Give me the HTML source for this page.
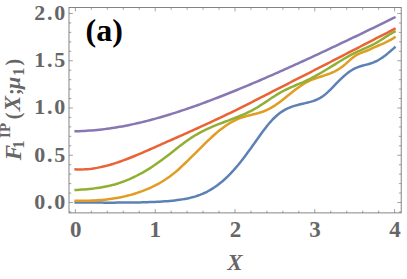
<!DOCTYPE html>
<html><head><meta charset="utf-8">
<title>F1 IP plot (a)</title>
<style>
html,body{margin:0;padding:0;background:#fff;font-family:"Liberation Serif",serif;}
body{width:407px;height:279px;overflow:hidden;}
svg{display:block}
.c path{fill:none;stroke-width:2.5;stroke-linecap:butt;stroke-linejoin:round}
</style></head><body>
<svg width="407" height="279" viewBox="0 0 407 279">
<desc>(a) F1 IP (X; mu1) versus X; y ticks 0.0 0.5 1.0 1.5 2.0; x ticks 0 1 2 3 4</desc>
<rect width="407" height="279" fill="#fff"/>
<g class="c">
<path d="M74.4,202.56 L76.9,202.56 L79.4,202.56 L81.9,202.57 L84.4,202.57 L86.9,202.58 L89.5,202.59 L92.0,202.59 L94.5,202.60 L97.0,202.61 L99.5,202.62 L102.0,202.62 L104.5,202.63 L107.0,202.63 L109.5,202.63 L112.0,202.63 L114.6,202.63 L117.1,202.62 L119.6,202.61 L122.1,202.60 L124.6,202.58 L127.1,202.56 L129.6,202.53 L132.1,202.50 L134.6,202.47 L137.1,202.43 L139.6,202.38 L142.2,202.32 L144.7,202.26 L147.2,202.20 L149.7,202.12 L152.2,202.03 L154.7,201.93 L157.2,201.81 L159.7,201.68 L162.2,201.52 L164.7,201.35 L167.2,201.15 L169.8,200.93 L172.3,200.68 L174.8,200.40 L177.3,200.09 L179.8,199.75 L182.3,199.37 L184.8,198.94 L187.3,198.46 L189.8,197.91 L192.3,197.29 L194.9,196.59 L197.4,195.79 L199.9,194.89 L202.4,193.88 L204.9,192.76 L207.4,191.51 L209.9,190.12 L212.4,188.61 L214.9,186.97 L217.4,185.19 L219.9,183.27 L222.5,181.20 L225.0,178.99 L227.5,176.64 L230.0,174.13 L232.5,171.47 L235.0,168.67 L237.5,165.74 L240.0,162.68 L242.5,159.51 L245.0,156.23 L247.5,152.84 L250.1,149.37 L252.6,145.84 L255.1,142.28 L257.6,138.73 L260.1,135.22 L262.6,131.79 L265.1,128.47 L267.6,125.29 L270.1,122.30 L272.6,119.52 L275.2,116.99 L277.7,114.74 L280.2,112.79 L282.7,111.10 L285.2,109.65 L287.7,108.41 L290.2,107.34 L292.7,106.43 L295.2,105.65 L297.7,104.95 L300.2,104.32 L302.8,103.73 L305.3,103.14 L307.8,102.53 L310.3,101.88 L312.8,101.13 L315.3,100.25 L317.8,99.19 L320.3,97.89 L322.8,96.30 L325.3,94.38 L327.8,92.15 L330.4,89.70 L332.9,87.11 L335.4,84.47 L337.9,81.88 L340.4,79.39 L342.9,77.04 L345.4,74.85 L347.9,72.84 L350.4,71.04 L352.9,69.47 L355.5,68.15 L358.0,67.10 L360.5,66.26 L363.0,65.55 L365.5,64.90 L368.0,64.23 L370.5,63.46 L373.0,62.56 L375.5,61.51 L378.0,60.26 L380.5,58.79 L383.1,57.09 L385.6,55.20 L388.1,53.15 L390.6,51.00 L393.1,48.83 L395.6,46.71" stroke="#5e81b5"/>
<path d="M74.4,200.68 L76.9,200.73 L79.4,200.75 L81.9,200.76 L84.4,200.75 L86.9,200.71 L89.5,200.65 L92.0,200.56 L94.5,200.44 L97.0,200.30 L99.5,200.12 L102.0,199.91 L104.5,199.67 L107.0,199.39 L109.5,199.08 L112.0,198.73 L114.6,198.34 L117.1,197.92 L119.6,197.45 L122.1,196.94 L124.6,196.38 L127.1,195.78 L129.6,195.13 L132.1,194.44 L134.6,193.69 L137.1,192.89 L139.6,192.05 L142.2,191.14 L144.7,190.19 L147.2,189.17 L149.7,188.10 L152.2,186.95 L154.7,185.73 L157.2,184.42 L159.7,183.04 L162.2,181.55 L164.7,179.98 L167.2,178.30 L169.8,176.51 L172.3,174.60 L174.8,172.58 L177.3,170.45 L179.8,168.21 L182.3,165.90 L184.8,163.52 L187.3,161.08 L189.8,158.60 L192.3,156.09 L194.9,153.58 L197.4,151.06 L199.9,148.55 L202.4,146.06 L204.9,143.59 L207.4,141.18 L209.9,138.81 L212.4,136.50 L214.9,134.27 L217.4,132.13 L219.9,130.08 L222.5,128.14 L225.0,126.30 L227.5,124.59 L230.0,123.01 L232.5,121.57 L235.0,120.27 L237.5,119.12 L240.0,118.13 L242.5,117.27 L245.0,116.52 L247.5,115.83 L250.1,115.20 L252.6,114.58 L255.1,113.95 L257.6,113.28 L260.1,112.55 L262.6,111.72 L265.1,110.76 L267.6,109.66 L270.1,108.38 L272.6,106.92 L275.2,105.32 L277.7,103.59 L280.2,101.75 L282.7,99.83 L285.2,97.85 L287.7,95.84 L290.2,93.82 L292.7,91.81 L295.2,89.85 L297.7,87.95 L300.2,86.16 L302.8,84.49 L305.3,82.97 L307.8,81.63 L310.3,80.45 L312.8,79.41 L315.3,78.48 L317.8,77.62 L320.3,76.80 L322.8,75.99 L325.3,75.16 L327.8,74.28 L330.4,73.32 L332.9,72.25 L335.4,71.03 L337.9,69.63 L340.4,68.03 L342.9,66.19 L345.4,64.09 L347.9,61.86 L350.4,59.61 L352.9,57.51 L355.5,55.70 L358.0,54.28 L360.5,53.17 L363.0,52.20 L365.5,51.26 L368.0,50.26 L370.5,49.12 L373.0,47.96 L375.5,46.84 L378.0,45.74 L380.5,44.64 L383.1,43.53 L385.6,42.37 L388.1,41.14 L390.6,39.82 L393.1,38.38 L395.6,36.81" stroke="#e19c24"/>
<path d="M74.4,190.07 L76.9,189.92 L79.4,189.77 L81.9,189.60 L84.4,189.41 L86.9,189.19 L89.5,188.95 L92.0,188.68 L94.5,188.38 L97.0,188.04 L99.5,187.67 L102.0,187.25 L104.5,186.79 L107.0,186.28 L109.5,185.72 L112.0,185.10 L114.6,184.43 L117.1,183.70 L119.6,182.90 L122.1,182.04 L124.6,181.11 L127.1,180.11 L129.6,179.06 L132.1,177.93 L134.6,176.75 L137.1,175.50 L139.6,174.19 L142.2,172.82 L144.7,171.38 L147.2,169.89 L149.7,168.34 L152.2,166.72 L154.7,165.05 L157.2,163.33 L159.7,161.54 L162.2,159.70 L164.7,157.81 L167.2,155.89 L169.8,153.93 L172.3,151.97 L174.8,150.00 L177.3,148.04 L179.8,146.11 L182.3,144.20 L184.8,142.34 L187.3,140.53 L189.8,138.79 L192.3,137.13 L194.9,135.55 L197.4,134.07 L199.9,132.67 L202.4,131.35 L204.9,130.10 L207.4,128.92 L209.9,127.78 L212.4,126.70 L214.9,125.66 L217.4,124.66 L219.9,123.68 L222.5,122.72 L225.0,121.78 L227.5,120.84 L230.0,119.90 L232.5,118.95 L235.0,117.99 L237.5,117.00 L240.0,115.98 L242.5,114.91 L245.0,113.80 L247.5,112.63 L250.1,111.40 L252.6,110.09 L255.1,108.70 L257.6,107.21 L260.1,105.65 L262.6,104.03 L265.1,102.36 L267.6,100.67 L270.1,98.99 L272.6,97.32 L275.2,95.70 L277.7,94.14 L280.2,92.66 L282.7,91.28 L285.2,90.00 L287.7,88.81 L290.2,87.67 L292.7,86.58 L295.2,85.52 L297.7,84.47 L300.2,83.41 L302.8,82.32 L305.3,81.19 L307.8,80.00 L310.3,78.75 L312.8,77.44 L315.3,76.08 L317.8,74.68 L320.3,73.23 L322.8,71.76 L325.3,70.25 L327.8,68.73 L330.4,67.18 L332.9,65.63 L335.4,64.08 L337.9,62.53 L340.4,61.00 L342.9,59.50 L345.4,58.02 L347.9,56.59 L350.4,55.20 L352.9,53.88 L355.5,52.61 L358.0,51.43 L360.5,50.29 L363.0,49.19 L365.5,48.10 L368.0,46.98 L370.5,45.82 L373.0,44.59 L375.5,43.25 L378.0,41.80 L380.5,40.24 L383.1,38.61 L385.6,36.97 L388.1,35.35 L390.6,33.80 L393.1,32.35 L395.6,31.05" stroke="#8fb032"/>
<path d="M74.4,169.29 L76.9,169.42 L79.4,169.47 L81.9,169.44 L84.4,169.34 L86.9,169.18 L89.5,168.94 L92.0,168.64 L94.5,168.28 L97.0,167.86 L99.5,167.37 L102.0,166.84 L104.5,166.25 L107.0,165.61 L109.5,164.93 L112.0,164.19 L114.6,163.42 L117.1,162.61 L119.6,161.75 L122.1,160.87 L124.6,159.95 L127.1,159.00 L129.6,158.02 L132.1,157.02 L134.6,156.00 L137.1,154.95 L139.6,153.89 L142.2,152.81 L144.7,151.72 L147.2,150.62 L149.7,149.51 L152.2,148.40 L154.7,147.29 L157.2,146.17 L159.7,145.06 L162.2,143.94 L164.7,142.83 L167.2,141.72 L169.8,140.60 L172.3,139.49 L174.8,138.38 L177.3,137.26 L179.8,136.14 L182.3,135.03 L184.8,133.91 L187.3,132.78 L189.8,131.66 L192.3,130.53 L194.9,129.40 L197.4,128.26 L199.9,127.12 L202.4,125.98 L204.9,124.83 L207.4,123.67 L209.9,122.51 L212.4,121.35 L214.9,120.18 L217.4,119.00 L219.9,117.82 L222.5,116.62 L225.0,115.43 L227.5,114.22 L230.0,113.01 L232.5,111.78 L235.0,110.55 L237.5,109.32 L240.0,108.07 L242.5,106.82 L245.0,105.56 L247.5,104.30 L250.1,103.03 L252.6,101.76 L255.1,100.48 L257.6,99.20 L260.1,97.92 L262.6,96.63 L265.1,95.35 L267.6,94.06 L270.1,92.77 L272.6,91.48 L275.2,90.19 L277.7,88.90 L280.2,87.62 L282.7,86.33 L285.2,85.05 L287.7,83.77 L290.2,82.49 L292.7,81.21 L295.2,79.93 L297.7,78.65 L300.2,77.37 L302.8,76.10 L305.3,74.82 L307.8,73.54 L310.3,72.27 L312.8,70.99 L315.3,69.71 L317.8,68.43 L320.3,67.15 L322.8,65.86 L325.3,64.58 L327.8,63.29 L330.4,62.00 L332.9,60.72 L335.4,59.43 L337.9,58.14 L340.4,56.85 L342.9,55.55 L345.4,54.26 L347.9,52.97 L350.4,51.67 L352.9,50.38 L355.5,49.08 L358.0,47.79 L360.5,46.50 L363.0,45.20 L365.5,43.90 L368.0,42.61 L370.5,41.31 L373.0,40.02 L375.5,38.73 L378.0,37.43 L380.5,36.14 L383.1,34.84 L385.6,33.55 L388.1,32.26 L390.6,30.97 L393.1,29.68 L395.6,28.39" stroke="#eb6235"/>
<path d="M74.4,131.29 L76.9,131.23 L79.4,131.15 L81.9,131.05 L84.4,130.93 L86.9,130.78 L89.5,130.61 L92.0,130.42 L94.5,130.21 L97.0,129.97 L99.5,129.71 L102.0,129.43 L104.5,129.12 L107.0,128.79 L109.5,128.45 L112.0,128.08 L114.6,127.69 L117.1,127.28 L119.6,126.85 L122.1,126.40 L124.6,125.92 L127.1,125.43 L129.6,124.92 L132.1,124.40 L134.6,123.85 L137.1,123.28 L139.6,122.70 L142.2,122.10 L144.7,121.48 L147.2,120.85 L149.7,120.20 L152.2,119.54 L154.7,118.85 L157.2,118.16 L159.7,117.45 L162.2,116.72 L164.7,115.98 L167.2,115.23 L169.8,114.46 L172.3,113.68 L174.8,112.88 L177.3,112.08 L179.8,111.26 L182.3,110.43 L184.8,109.59 L187.3,108.74 L189.8,107.87 L192.3,107.00 L194.9,106.11 L197.4,105.22 L199.9,104.31 L202.4,103.40 L204.9,102.48 L207.4,101.54 L209.9,100.60 L212.4,99.65 L214.9,98.69 L217.4,97.73 L219.9,96.75 L222.5,95.77 L225.0,94.78 L227.5,93.78 L230.0,92.78 L232.5,91.76 L235.0,90.75 L237.5,89.72 L240.0,88.69 L242.5,87.65 L245.0,86.61 L247.5,85.56 L250.1,84.50 L252.6,83.44 L255.1,82.38 L257.6,81.31 L260.1,80.23 L262.6,79.15 L265.1,78.06 L267.6,76.97 L270.1,75.87 L272.6,74.77 L275.2,73.67 L277.7,72.56 L280.2,71.44 L282.7,70.33 L285.2,69.20 L287.7,68.08 L290.2,66.95 L292.7,65.82 L295.2,64.68 L297.7,63.54 L300.2,62.39 L302.8,61.25 L305.3,60.10 L307.8,58.94 L310.3,57.79 L312.8,56.63 L315.3,55.46 L317.8,54.30 L320.3,53.13 L322.8,51.96 L325.3,50.78 L327.8,49.60 L330.4,48.43 L332.9,47.24 L335.4,46.06 L337.9,44.87 L340.4,43.68 L342.9,42.49 L345.4,41.30 L347.9,40.10 L350.4,38.90 L352.9,37.70 L355.5,36.50 L358.0,35.29 L360.5,34.09 L363.0,32.88 L365.5,31.67 L368.0,30.46 L370.5,29.24 L373.0,28.02 L375.5,26.81 L378.0,25.59 L380.5,24.37 L383.1,23.14 L385.6,21.92 L388.1,20.69 L390.6,19.46 L393.1,18.24 L395.6,17.00" stroke="#8778b3"/>
</g>
<rect x="69.0" y="7.5" width="332.20" height="205.40" fill="none" stroke="#666" stroke-width="0.8"/>
<path d="M75.40,212.9v-3.9M75.40,7.5v3.9M91.36,212.9v-2.3M91.36,7.5v2.3M107.32,212.9v-2.3M107.32,7.5v2.3M123.28,212.9v-2.3M123.28,7.5v2.3M139.24,212.9v-2.3M139.24,7.5v2.3M155.20,212.9v-3.9M155.20,7.5v3.9M171.16,212.9v-2.3M171.16,7.5v2.3M187.12,212.9v-2.3M187.12,7.5v2.3M203.08,212.9v-2.3M203.08,7.5v2.3M219.04,212.9v-2.3M219.04,7.5v2.3M235.00,212.9v-3.9M235.00,7.5v3.9M250.96,212.9v-2.3M250.96,7.5v2.3M266.92,212.9v-2.3M266.92,7.5v2.3M282.88,212.9v-2.3M282.88,7.5v2.3M298.84,212.9v-2.3M298.84,7.5v2.3M314.80,212.9v-3.9M314.80,7.5v3.9M330.76,212.9v-2.3M330.76,7.5v2.3M346.72,212.9v-2.3M346.72,7.5v2.3M362.68,212.9v-2.3M362.68,7.5v2.3M378.64,212.9v-2.3M378.64,7.5v2.3M394.60,212.9v-3.9M394.60,7.5v3.9M69.0,211.95h2.3M401.2,211.95h-2.3M69.0,202.50h3.9M401.2,202.50h-3.9M69.0,193.05h2.3M401.2,193.05h-2.3M69.0,183.60h2.3M401.2,183.60h-2.3M69.0,174.15h2.3M401.2,174.15h-2.3M69.0,164.70h2.3M401.2,164.70h-2.3M69.0,155.25h3.9M401.2,155.25h-3.9M69.0,145.80h2.3M401.2,145.80h-2.3M69.0,136.35h2.3M401.2,136.35h-2.3M69.0,126.90h2.3M401.2,126.90h-2.3M69.0,117.45h2.3M401.2,117.45h-2.3M69.0,108.00h3.9M401.2,108.00h-3.9M69.0,98.55h2.3M401.2,98.55h-2.3M69.0,89.10h2.3M401.2,89.10h-2.3M69.0,79.65h2.3M401.2,79.65h-2.3M69.0,70.20h2.3M401.2,70.20h-2.3M69.0,60.75h3.9M401.2,60.75h-3.9M69.0,51.30h2.3M401.2,51.30h-2.3M69.0,41.85h2.3M401.2,41.85h-2.3M69.0,32.40h2.3M401.2,32.40h-2.3M69.0,22.95h2.3M401.2,22.95h-2.3M69.0,13.50h3.9M401.2,13.50h-3.9" stroke="#666" stroke-width="0.6" fill="none"/>
<g font-family="'Liberation Serif', serif" font-weight="bold" font-size="22" fill="#666666">
<text x="65.2" y="209.4" text-anchor="end" textLength="31" lengthAdjust="spacing">0.0</text>
<text x="65.2" y="162" text-anchor="end" textLength="31" lengthAdjust="spacing">0.5</text>
<text x="65.2" y="114.45" text-anchor="end" textLength="31" lengthAdjust="spacing">1.0</text>
<text x="65.2" y="67" text-anchor="end" textLength="31" lengthAdjust="spacing">1.5</text>
<text x="65.2" y="19.55" text-anchor="end" textLength="31" lengthAdjust="spacing">2.0</text>
<text x="75.85" y="236.7" font-size="23" text-anchor="middle">0</text>
<text x="155.2" y="236.7" font-size="23" text-anchor="middle">1</text>
<text x="235.6" y="236.7" font-size="23" text-anchor="middle">2</text>
<text x="314.9" y="236.7" font-size="23" text-anchor="middle">3</text>
<text x="395.1" y="236.7" font-size="23" text-anchor="middle">4</text>
<text x="235" y="270" font-size="23" font-style="italic" text-anchor="middle">X</text>
</g>
<text x="85.5" y="41.3" font-family="'Liberation Serif', serif" font-weight="bold" font-size="32" fill="#000">(a)</text>
<g transform="rotate(-90)"><text font-family="'Liberation Serif', serif" font-weight="bold" fill="#666666"><tspan x="-160.3" y="20.6" font-size="23" font-style="italic">F</tspan><tspan x="-148.5" y="23.7" font-size="16">1</tspan><tspan x="-137.9" y="10.3" font-size="15">IP</tspan><tspan x="-119.2" y="19.5" font-size="20">(</tspan><tspan x="-111.3" y="20.2" font-size="23" font-style="italic">X</tspan><tspan x="-95" y="20" font-size="20">;</tspan><tspan x="-89" y="20.45" font-size="22" font-style="italic">μ</tspan><tspan x="-75.7" y="23.7" font-size="16">1</tspan><tspan x="-65.6" y="19.5" font-size="20">)</tspan></text></g>
</svg>
</body></html>
